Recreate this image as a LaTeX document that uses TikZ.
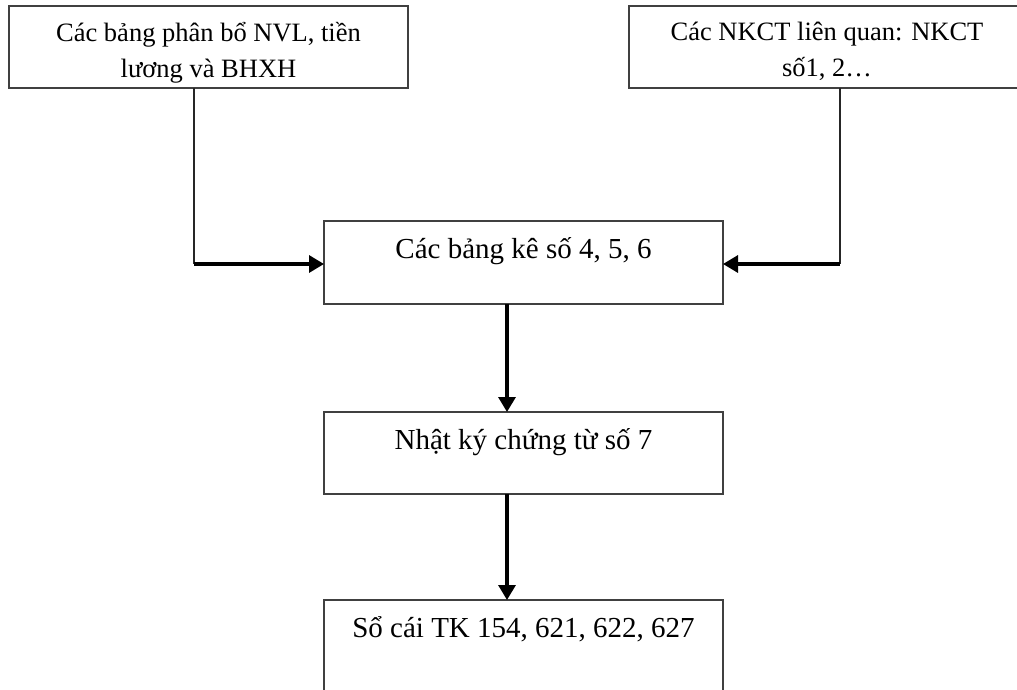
\documentclass[tikz,border=0pt]{standalone}
\usepackage{fontspec}
\setmainfont{Liberation Serif}
\usetikzlibrary{arrows.meta}
\begin{document}
\begin{tikzpicture}[x=1pt,y=-1pt,
  box/.style={draw=black!75, line width=1.4pt, rectangle, inner sep=0pt, outer sep=0pt, anchor=north west},
  lbl/.style={font=\fontsize{29}{36}\selectfont, align=center, anchor=base, inner sep=0pt},
  toplbl/.style={lbl, font=\fontsize{26.5}{36}\selectfont},
  feed/.style={line width=1.4pt, draw=black!85},
  flow/.style={line width=3.2pt, -{Triangle[length=15pt,width=17pt]}},
]
\useasboundingbox (0,0) rectangle (1017,690);
\clip (0,0) rectangle (1017,690);

% boxes
\node[box, minimum width=399pt, minimum height=82pt] (b1) at (9,6) {};
\node[box, minimum width=396pt, minimum height=82pt] (b2) at (629,6) {};
\node[box, minimum width=399pt, minimum height=83pt] (b3) at (324,221) {};
\node[box, minimum width=399pt, minimum height=82pt] (b4) at (324,412) {};
\node[box, minimum width=399pt, minimum height=110pt] (b5) at (324,600) {};

% box texts (base anchor sits on the last line)
\node[toplbl] (t1) at ([yshift=-72pt]b1.north) {Các bảng phân bổ NVL, tiền\\lương và BHXH};
\node[toplbl] (t2) at ([yshift=-71pt]b2.north) {Các NKCT liên quan: NKCT\\số1, 2…};
\node[lbl] (t3) at ([yshift=-37pt]b3.north) {Các bảng kê số 4, 5, 6};
\node[lbl] (t4) at ([yshift=-37pt]b4.north) {Nhật ký chứng từ số 7};
\node[lbl] (t5) at ([yshift=-37pt]b5.north) {Sổ cái TK 154, 621, 622, 627};

% connectors
\coordinate (c1) at (194,264);
\coordinate (c2) at (840,264);
\coordinate (v) at (507,0);

\draw[feed] (b1.south -| c1) -- (c1);
\draw[flow] (c1) -- (b3.west |- c1);
\draw[feed] (b2.south -| c2) -- (c2);
\draw[flow] (c2) -- (b3.east |- c2);
\draw[flow] (b3.south -| v) -- (b4.north -| v);
\draw[flow] (b4.south -| v) -- (b5.north -| v);
\end{tikzpicture}
\end{document}
